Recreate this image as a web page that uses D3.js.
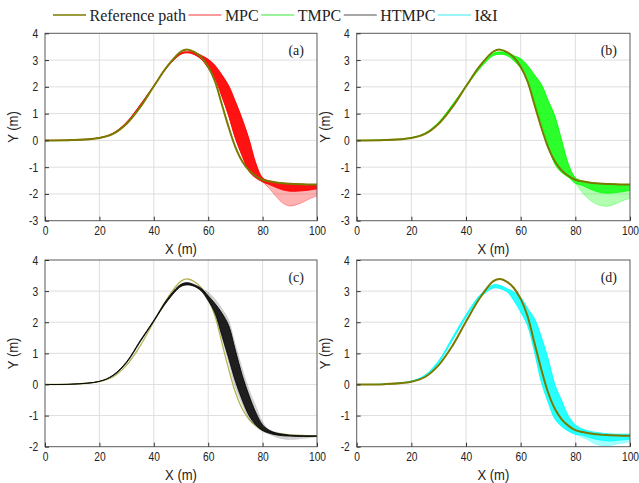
<!DOCTYPE html>
<html>
<head>
<meta charset="utf-8">
<script src="https://cdn.jsdelivr.net/npm/d3@7"></script>
<style>
  body { margin: 0; background: #fff; }
  text { fill: #222; }
</style>
</head>
<body>
<script>
// sample positions along X (m), shared by every curve
const xs = [0, 10, 20, 25, 30, 35, 40, 45, 50, 52.5, 55, 57.5, 60, 62.5, 65, 67.5, 70, 72.5, 75, 77.5, 80, 82.5, 85, 87.5, 90, 92.5, 95, 97.5, 100]

// reference path Y (m)
const refY = [0, 0.01, 0.09, 0.24, 0.62, 1.24, 2.02, 2.77, 3.32, 3.39, 3.3, 3.1, 2.75, 2.2, 1.35, 0.5, -0.25, -0.78, -1.12, -1.33, -1.47, -1.53, -1.57, -1.6, -1.62, -1.63, -1.64, -1.65, -1.65]

// MPC runs: lowest / highest Y of the bundle, and the dense part
const mpcLo = [0, 0.01, 0.09, 0.25, 0.64, 1.3, 2.02, 2.74, 3.22, 3.27, 3.2, 3.03, 2.7, 2.3, 1.65, 0.92, 0.07, -0.58, -1.15, -1.4, -1.55, -1.8, -2.1, -2.35, -2.45, -2.4, -2.3, -2.17, -2.08]
const mpcHi = [0, 0.01, 0.1, 0.27, 0.68, 1.33, 2.04, 2.77, 3.27, 3.31, 3.29, 3.17, 3.03, 2.8, 2.45, 2.05, 1.45, 0.8, 0.05, -0.85, -1.4, -1.52, -1.57, -1.6, -1.62, -1.63, -1.64, -1.65, -1.65]
const mpcCoreLo = [0, 0.01, 0.09, 0.25, 0.64, 1.3, 2.02, 2.74, 3.22, 3.27, 3.2, 3.03, 2.7, 2.3, 1.65, 0.92, 0.07, -0.58, -1.15, -1.4, -1.55, -1.65, -1.76, -1.85, -1.9, -1.9, -1.88, -1.85, -1.82]

// TMPC runs
const tmpcLo = [0, 0.01, 0.09, 0.25, 0.63, 1.29, 2.0, 2.68, 3.17, 3.22, 3.17, 2.98, 2.7, 2.22, 1.48, 0.67, -0.15, -0.88, -1.2, -1.38, -1.6, -1.95, -2.2, -2.37, -2.45, -2.45, -2.36, -2.25, -2.15]
const tmpcHi = [0, 0.01, 0.1, 0.27, 0.68, 1.33, 2.04, 2.76, 3.25, 3.3, 3.28, 3.16, 3.05, 2.8, 2.45, 2.1, 1.5, 0.9, 0.0, -0.9, -1.4, -1.52, -1.57, -1.6, -1.62, -1.63, -1.64, -1.65, -1.65]
const tmpcCoreLo = [0, 0.01, 0.09, 0.25, 0.63, 1.29, 2.0, 2.68, 3.17, 3.22, 3.17, 2.98, 2.7, 2.22, 1.48, 0.67, -0.15, -0.88, -1.2, -1.38, -1.6, -1.68, -1.8, -1.9, -1.96, -1.97, -1.95, -1.91, -1.87]

// HTMPC runs
const htLo = [0, 0.01, 0.1, 0.28, 0.7, 1.37, 2.03, 2.68, 3.15, 3.2, 3.15, 2.98, 2.65, 2.25, 1.5, 0.7, -0.1, -0.65, -1.1, -1.35, -1.52, -1.6, -1.7, -1.75, -1.77, -1.76, -1.74, -1.71, -1.69]
const htHi = [0, 0.01, 0.1, 0.3, 0.73, 1.41, 2.06, 2.75, 3.22, 3.27, 3.22, 3.1, 2.97, 2.75, 2.45, 2.08, 1.29, 0.53, -0.15, -0.68, -1.2, -1.47, -1.53, -1.58, -1.62, -1.63, -1.64, -1.65, -1.65]
const htCoreLo = [0, 0.01, 0.1, 0.28, 0.7, 1.37, 2.03, 2.68, 3.15, 3.2, 3.15, 3.0, 2.7, 2.3, 1.58, 0.85, 0.1, -0.5, -1.0, -1.3, -1.48, -1.57, -1.62, -1.65, -1.66, -1.67, -1.67, -1.67, -1.67]
const htCoreHi = [0, 0.01, 0.1, 0.3, 0.73, 1.41, 2.06, 2.75, 3.22, 3.27, 3.2, 3.08, 2.85, 2.6, 2.3, 1.9, 1.1, 0.3, -0.35, -0.9, -1.3, -1.47, -1.56, -1.6, -1.63, -1.64, -1.65, -1.65, -1.65]

// I&I runs
const iiLo = [0, 0.01, 0.1, 0.27, 0.7, 1.42, 2.16, 2.78, 3.1, 3.08, 2.98, 2.7, 2.33, 1.9, 1.07, 0.1, -0.56, -1.1, -1.35, -1.5, -1.6, -1.7, -1.8, -1.92, -1.97, -1.97, -1.92, -1.88, -1.85]
const iiHi = [0, 0.01, 0.11, 0.3, 0.76, 1.5, 2.24, 2.86, 3.2, 3.18, 3.08, 2.97, 2.8, 2.45, 2.12, 1.54, 0.83, 0.0, -0.52, -1.02, -1.3, -1.43, -1.5, -1.54, -1.57, -1.59, -1.6, -1.6, -1.6]
const iiCoreLo = [0, 0.01, 0.1, 0.27, 0.7, 1.42, 2.16, 2.78, 3.1, 3.08, 2.98, 2.7, 2.33, 1.9, 1.07, 0.1, -0.56, -1.1, -1.35, -1.5, -1.6, -1.63, -1.7, -1.76, -1.8, -1.82, -1.8, -1.78, -1.76]

// ticks and labels
const xTicks = [0, 20, 40, 60, 80, 100]
const yTicksTop = [-3, -2, -1, 0, 1, 2, 3, 4]
const yTicksBottom = [-2, -1, 0, 1, 2, 3, 4]
const legendNames = ['Reference path', 'MPC', 'TMPC', 'HTMPC', 'I&I']
const panelLabels = ['(a)', '(b)', '(c)', '(d)']

const series = [
	{lo: mpcLo, hi: mpcHi, coreLo: mpcCoreLo, coreHi: mpcHi, color: '#ff0000', outerOp: 0.3, coreOp: 0.9, edgeOp: 0.55},
	{lo: tmpcLo, hi: tmpcHi, coreLo: tmpcCoreLo, coreHi: tmpcHi, color: '#00ff00', outerOp: 0.3, coreOp: 0.75, edgeOp: 0.55},
	{lo: htLo, hi: htHi, coreLo: htCoreLo, coreHi: htCoreHi, color: '#000000', outerOp: 0.18, coreOp: 0.85, edgeOp: 0.12},
	{lo: iiLo, hi: iiHi, coreLo: iiCoreLo, coreHi: iiHi, color: '#00ffff', outerOp: 0.35, coreOp: 0.75, edgeOp: 0.5}
]
const legendColors = ['#7a7a00', '#f47a7a', '#7af07a', '#8a8a8a', '#7af2f2']

// panel placement on the page
const panels = [
	{left: 45, right: 317, top: 33.3, bottom: 220.7, yTicks: yTicksTop, refColor: '#7a7a00', refW: 2, refUnder: false},
	{left: 356.7, right: 630, top: 33.3, bottom: 220.7, yTicks: yTicksTop, refColor: '#7a7a00', refW: 2, refUnder: false},
	{left: 45, right: 317, top: 260, bottom: 446.7, yTicks: yTicksBottom, refColor: '#b4b454', refW: 1.3, refUnder: true},
	{left: 356.7, right: 630, top: 260, bottom: 446.7, yTicks: yTicksBottom, refColor: '#7a7a00', refW: 2, refUnder: false}
]

const svg = d3.select('body').append('svg')
	.attr('width', 639)
	.attr('height', 483)
	.style('display', 'block')

const defs = svg.append('defs')
const sans = 'Liberation Sans, Arial, sans-serif'
const serif = 'Liberation Serif, Times New Roman, serif'
const curve = d3.curveCatmullRom.alpha(0.5)

// text narrowed a bit, like the squeezed original
function label(sel, x, y, txt, opts) {
	const rot = opts.rotate ? ` rotate(${opts.rotate})` : ''
	return sel.append('text')
		.attr('transform', `translate(${x},${y})${rot} scale(${opts.sx || 1},1)`)
		.attr('text-anchor', opts.anchor || 'middle')
		.style('font-family', opts.family || sans)
		.style('font-size', opts.size + 'px')
		.text(txt)
}

panels.forEach((p, k) => {
	const s = series[k]
	const x = d3.scaleLinear().domain([0, 100]).range([p.left, p.right])
	const y = d3.scaleLinear().domain([p.yTicks[0], p.yTicks[p.yTicks.length - 1]]).range([p.bottom, p.top])
	const g = svg.append('g')

	// grid
	g.append('g').selectAll('line').data(xTicks.slice(1, -1)).join('line')
		.attr('x1', d => x(d)).attr('x2', d => x(d))
		.attr('y1', p.top).attr('y2', p.bottom)
		.attr('stroke', '#dedede')
	g.append('g').selectAll('line').data(p.yTicks.slice(1, -1)).join('line')
		.attr('x1', p.left).attr('x2', p.right)
		.attr('y1', d => y(d)).attr('y2', d => y(d))
		.attr('stroke', '#dedede')

	defs.append('clipPath').attr('id', 'clip' + k)
		.append('rect')
		.attr('x', p.left).attr('y', p.top)
		.attr('width', p.right - p.left).attr('height', p.bottom - p.top)

	const rows = xs.map((v, i) => ({x: v, lo: s.lo[i], hi: s.hi[i], cl: s.coreLo[i], ch: s.coreHi[i], r: refY[i]}))
	const plot = g.append('g').attr('clip-path', `url(#clip${k})`)

	const refLine = d3.line().x(d => x(d.x)).y(d => y(d.r)).curve(curve)
	const drawRef = () => plot.append('path').datum(rows)
		.attr('d', refLine)
		.attr('fill', 'none')
		.attr('stroke', p.refColor)
		.attr('stroke-width', p.refW)

	if (p.refUnder) drawRef()

	// whole spread of the runs
	plot.append('path').datum(rows)
		.attr('d', d3.area().x(d => x(d.x)).y0(d => y(d.lo)).y1(d => y(d.hi)).curve(curve))
		.attr('fill', s.color)
		.attr('fill-opacity', s.outerOp)
	// dense part of the runs
	plot.append('path').datum(rows)
		.attr('d', d3.area().x(d => x(d.x)).y0(d => y(d.cl)).y1(d => y(d.ch)).curve(curve))
		.attr('fill', s.color)
		.attr('fill-opacity', s.coreOp)

	const edges = [
		{key: 'lo', op: s.edgeOp, w: 0.6},
		{key: 'hi', op: s.edgeOp, w: 0.6},
		{key: 'cl', op: 1, w: 0.8},
		{key: 'ch', op: 1, w: 0.8}
	]
	edges.forEach(e => {
		plot.append('path').datum(rows)
			.attr('d', d3.line().x(d => x(d.x)).y(d => y(d[e.key])).curve(curve))
			.attr('fill', 'none')
			.attr('stroke', s.color)
			.attr('stroke-opacity', e.op)
			.attr('stroke-width', e.w)
	})

	if (!p.refUnder) drawRef()

	// frame
	g.append('rect')
		.attr('x', p.left).attr('y', p.top)
		.attr('width', p.right - p.left).attr('height', p.bottom - p.top)
		.attr('fill', 'none')
		.attr('stroke', '#5a5a5a')

	// axes
	const ax = g.append('g')
		.attr('transform', `translate(0,${p.bottom})`)
		.call(d3.axisBottom(x).tickValues(xTicks).tickFormat(d => d).tickSizeInner(-4).tickSizeOuter(0).tickPadding(5))
	const ay = g.append('g')
		.attr('transform', `translate(${p.left},0)`)
		.call(d3.axisLeft(y).tickValues(p.yTicks).tickFormat(d => d).tickSizeInner(-4).tickSizeOuter(0).tickPadding(8.4))
	;[ax, ay].forEach(a => {
		a.select('.domain').remove()
		a.selectAll('line').attr('stroke', '#333')
		a.selectAll('text')
			.attr('transform', 'scale(0.82,1)')
			.style('font-family', sans)
			.style('font-size', '12.5px')
			.attr('fill', '#222')
	})

	// axis titles
	label(g, (p.left + p.right) / 2, p.bottom + 33, 'X (m)', {size: 14.5, sx: 0.9})
	label(g, p.left - 32, (p.top + p.bottom) / 2, 'Y (m)', {size: 14.5, sx: 0.9, rotate: -90})
		.attr('dy', '0.35em')

	// panel tag
	label(g, p.right - 13, p.top + 22, panelLabels[k], {size: 14, family: serif, anchor: 'end'})
})

// legend along the top
const leg = svg.append('g').attr('transform', 'translate(0,15)')
let cx = 53
legendNames.forEach((name, i) => {
	leg.append('line')
		.attr('x1', cx).attr('x2', cx + 33)
		.attr('stroke', legendColors[i])
		.attr('stroke-width', i === 0 ? 1.6 : 1.4)
	const t = leg.append('text')
		.attr('x', cx + 36.5)
		.attr('y', 5.5)
		.style('font-family', serif)
		.style('font-size', '16px')
		.text(name)
	cx = cx + 36.5 + t.node().getComputedTextLength() + 2.5
})
</script>
</body>
</html>
